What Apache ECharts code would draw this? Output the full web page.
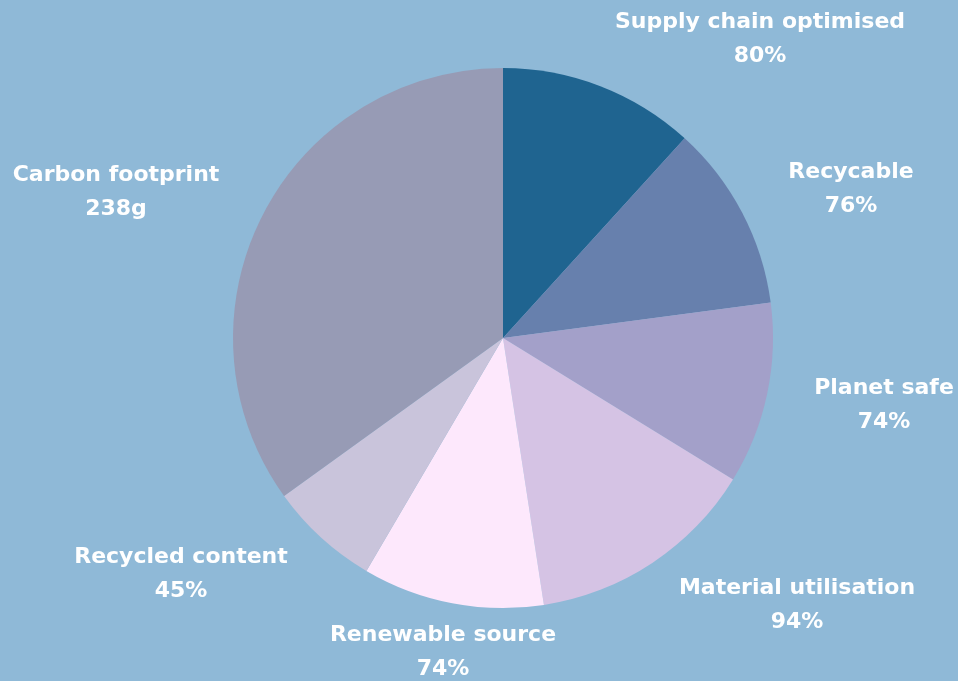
<!DOCTYPE html>
<html>
<head>
<meta charset="utf-8">
<script src="https://cdn.jsdelivr.net/npm/echarts@6/dist/echarts.min.js"></script>
<style>
  html, body { margin: 0; padding: 0; background: #8fb9d7; }
  #chart { width: 958px; height: 681px; }
</style>
</head>
<body>
<div id="chart"></div>
<script>
// Product sustainability breakdown
const categories = [
  'Supply chain optimised',
  'Recycable',
  'Planet safe',
  'Material utilisation',
  'Renewable source',
  'Recycled content',
  'Carbon footprint'
];
const values = [80, 76, 74, 94, 74, 45, 238];
const units = ['%', '%', '%', '%', '%', '%', 'g'];
const colors = ['#1f6490', '#6780ad', '#a3a0c9', '#d5c3e4', '#fde8fc', '#c9c4db', '#979bb5'];

// Label anchor points (text centre) for each slice
const labelSpots = [
  [760, 39], [851, 189], [884, 405], [797, 605], [443, 652], [181, 574], [116, 192]
];

const chart = echarts.init(document.getElementById('chart'));
chart.setOption({
  backgroundColor: '#8fb9d7',
  animation: false,
  series: [{
    type: 'pie',
    center: [503, 338],
    radius: 270,
    startAngle: 90,
    clockwise: true,
    silent: true,
    itemStyle: { borderWidth: 0 },
    labelLine: { show: false },
    label: {
      show: true,
      position: 'outside',
      overflow: 'none',
      color: '#ffffff',
      fontFamily: 'DejaVu Sans',
      fontWeight: 'bold',
      fontSize: 22,
      lineHeight: 34,
      align: 'center',
      formatter: p => p.name + '\n' + p.value + units[p.dataIndex]
    },
    labelLayout: p => ({
      x: labelSpots[p.dataIndex][0],
      y: labelSpots[p.dataIndex][1],
      align: 'center',
      verticalAlign: 'middle'
    }),
    data: categories.map((c, i) => ({
      name: c,
      value: values[i],
      itemStyle: { color: colors[i] }
    }))
  }]
});
</script>
</body>
</html>
